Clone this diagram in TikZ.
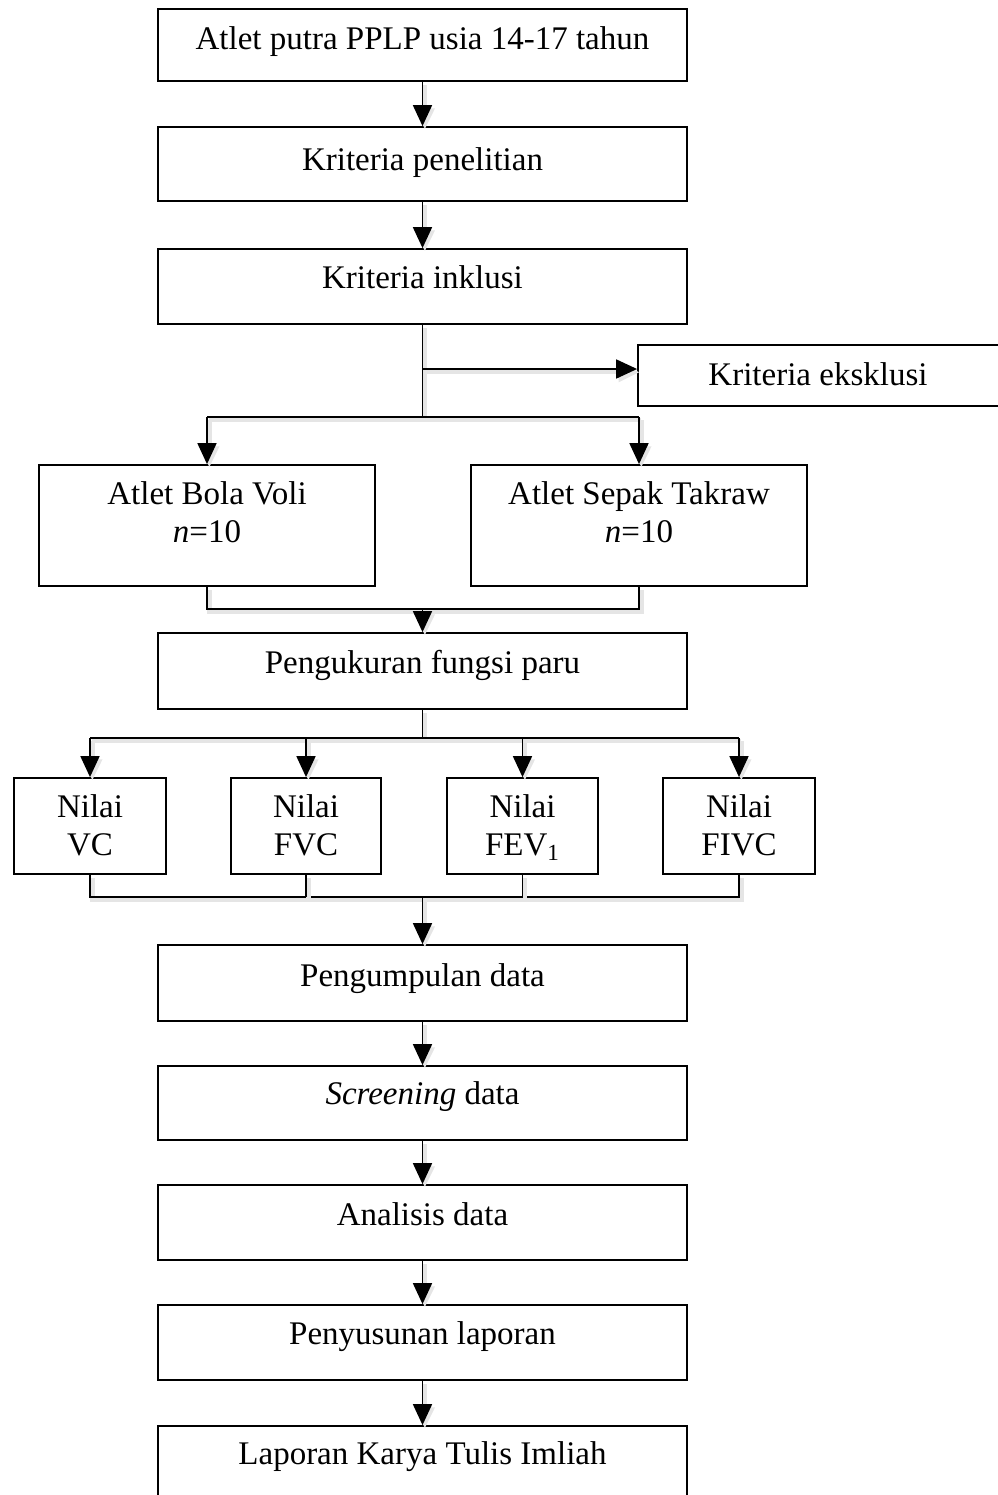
\documentclass[tikz,border=0pt]{standalone}
\usepackage{fontspec}
\setmainfont{Liberation Serif}
\usetikzlibrary{arrows.meta}
\begin{document}
\begin{tikzpicture}[x=0.5pt,y=-0.5pt,
  box/.style={draw,line width=0.9pt,rectangle,inner sep=0pt},
  txt/.style={anchor=base,inner sep=0pt,font=\fontsize{16.5pt}{19pt}\selectfont},
  shade/.style={preaction={draw=black!10,line width=2.2pt,transform canvas={shift={(1.2pt,-1.6pt)}}}},
  conn/.style={line width=0.9pt,shade},
  arr/.style={conn,-{Triangle[length=10.5pt,width=9.5pt]}}]
\useasboundingbox (0,0) rectangle (997,1495);
% boxes
\node[box,minimum width=264.5pt,minimum height=36pt] (b1) at (422.5,45) {};
\node[box,minimum width=264.5pt,minimum height=37pt] (b2) at (422.5,164) {};
\node[box,minimum width=264.5pt,minimum height=37.5pt] (b3) at (422.5,286.5) {};
\node[box,minimum width=180.5pt,minimum height=30.5pt] (bex) at (818.5,375.5) {};
\node[box,minimum width=168pt,minimum height=60.5pt] (bv) at (207,525.5) {};
\node[box,minimum width=168pt,minimum height=60.5pt] (bt) at (639,525.5) {};
\node[box,minimum width=264.5pt,minimum height=38pt] (bp) at (422.5,671) {};
\node[box,minimum width=76pt,minimum height=48pt] (n1) at (90,826) {};
\node[box,minimum width=75pt,minimum height=48pt] (n2) at (306,826) {};
\node[box,minimum width=75.5pt,minimum height=48pt] (n3) at (522.5,826) {};
\node[box,minimum width=76pt,minimum height=48pt] (n4) at (739,826) {};
\node[box,minimum width=264.5pt,minimum height=38pt] (pg) at (422.5,983) {};
\node[box,minimum width=264.5pt,minimum height=37pt] (sc) at (422.5,1103) {};
\node[box,minimum width=264.5pt,minimum height=37.5pt] (an) at (422.5,1222.5) {};
\node[box,minimum width=264.5pt,minimum height=37.5pt] (py) at (422.5,1342.5) {};
\node[box,minimum width=264.5pt,minimum height=39.5pt] (lp) at (422.5,1465.5) {};
% texts
\node[txt] (t1) at (422.5,49) {Atlet putra PPLP usia 14-17 tahun};
\node[txt] (t2) at (422.5,170) {Kriteria penelitian};
\node[txt] (t3) at (422.5,288) {Kriteria inklusi};
\node[txt] (tex) at (818,385) {Kriteria eksklusi};
\node[txt] (tv1) at (207,504) {Atlet Bola Voli};
\node[txt] (tv2) at (207,542) {\textit{n}=10};
\node[txt] (tt1) at (639,504) {Atlet Sepak Takraw};
\node[txt] (tt2) at (639,542) {\textit{n}=10};
\node[txt] (tp) at (422.5,673) {Pengukuran fungsi paru};
\node[txt] (tn1a) at (90,817) {Nilai};
\node[txt] (tn1b) at (90,855) {VC};
\node[txt] (tn2a) at (306,817) {Nilai};
\node[txt] (tn2b) at (306,855) {FVC};
\node[txt] (tn3a) at (522.5,817) {Nilai};
\node[txt] (tn3b) at (522.5,855) {FEV\textsubscript{1}};
\node[txt] (tn4a) at (739,817) {Nilai};
\node[txt] (tn4b) at (739,855) {FIVC};
\node[txt] (tg) at (422.5,986) {Pengumpulan data};
\node[txt] (ts) at (422.5,1104) {\textit{Screening} data};
\node[txt] (ta) at (422.5,1225) {Analisis data};
\node[txt] (ty) at (422.5,1344) {Penyusunan laporan};
\node[txt] (tl) at (422.5,1464) {Laporan Karya Tulis Imliah};
% junction coordinates
\coordinate (s1) at (422.5,369);
\coordinate (s2) at (422.5,417);
\coordinate (j1) at (422.5,609);
\coordinate (j2) at (422.5,738);
\coordinate (j3) at (422.5,897);
% connectors
\draw[arr] (b1.south) -- (b2.north);
\draw[arr] (b2.south) -- (b3.north);
\draw[conn] (b3.south) -- (s2);
\draw[arr] (s1) -- (s1 -| bex.west);
\draw[conn] (bv.north |- s2) -- (bt.north |- s2);
\draw[arr] (bv.north |- s2) -- (bv.north);
\draw[arr] (bt.north |- s2) -- (bt.north);
\draw[conn] (bv.south) -- (bv.south |- j1) -- (bt.south |- j1) -- (bt.south);
\draw[arr] (j1) -- (bp.north);
\draw[conn] (bp.south) -- (j2);
\draw[conn] (n1.north |- j2) -- (n4.north |- j2);
\draw[arr] (n1.north |- j2) -- (n1.north);
\draw[arr] (n2.north |- j2) -- (n2.north);
\draw[arr] (n3.north |- j2) -- (n3.north);
\draw[arr] (n4.north |- j2) -- (n4.north);
\draw[conn] (n1.south) -- (n1.south |- j3) -- (n4.south |- j3) -- (n4.south);
\draw[conn] (n2.south) -- (n2.south |- j3);
\draw[conn] (n3.south) -- (n3.south |- j3);
\draw[arr] (j3) -- (pg.north);
\draw[arr] (pg.south) -- (sc.north);
\draw[arr] (sc.south) -- (an.north);
\draw[arr] (an.south) -- (py.north);
\draw[arr] (py.south) -- (lp.north);
\end{tikzpicture}
\end{document}
